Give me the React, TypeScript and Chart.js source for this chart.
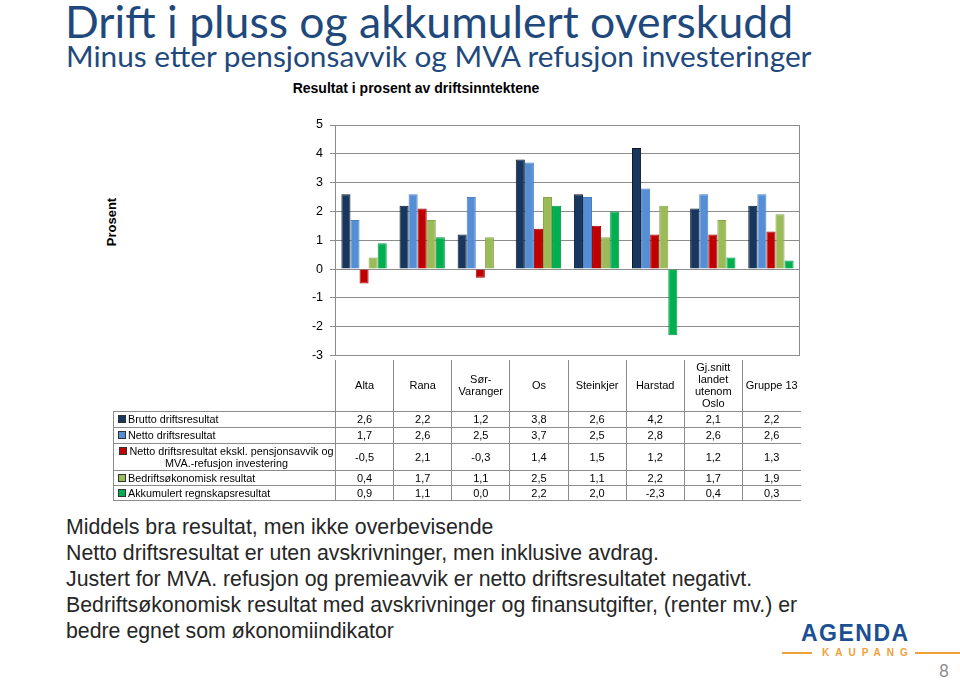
import React, { useEffect, useRef } from "react";
import { Chart, registerables } from "chart.js";
Chart.register(...registerables);

const categoryHeaderLines: string[][] = [
  ["Alta"],
  ["Rana"],
  ["Sør-", "Varanger"],
  ["Os"],
  ["Steinkjer"],
  ["Harstad"],
  ["Gj.snitt", "landet", "utenom", "Oslo"],
  ["Gruppe 13"],
];
const categories = categoryHeaderLines.map((l) => l.join(" "));

const seriesNames = [
  "Brutto driftsresultat",
  "Netto driftsresultat",
  "Netto driftsresultat ekskl. pensjonsavvik og MVA.-refusjon investering",
  "Bedriftsøkonomisk resultat",
  "Akkumulert regnskapsresultat",
];
const brutto = [2.6, 2.2, 1.2, 3.8, 2.6, 4.2, 2.1, 2.2];
const netto = [1.7, 2.6, 2.5, 3.7, 2.5, 2.8, 2.6, 2.6];
const nettoEkskl = [-0.5, 2.1, -0.3, 1.4, 1.5, 1.2, 1.2, 1.3];
const bedrift = [0.4, 1.7, 1.1, 2.5, 1.1, 2.2, 1.7, 1.9];
const akkumulert = [0.9, 1.1, 0.0, 2.2, 2.0, -2.3, 0.4, 0.3];
const seriesValues = [brutto, netto, nettoEkskl, bedrift, akkumulert];

const seriesColors = ["#17375E", "#558ED5", "#C00000", "#9BBB59", "#00B050"];
const seriesBorders = ["#0a1628", "#4a80c4", "#a50000", "#86a24a", "#009a46"];

const yMin = -3;
const yMax = 5;

const fmt = (v: number) => v.toFixed(1).replace(".", ",");

const GRID = "#8c8c8c";

export default function App() {
  const canvasRef = useRef<HTMLCanvasElement | null>(null);

  useEffect(() => {
    if (!canvasRef.current) return;
    const rightBorder = {
      id: "rightBorder",
      afterDraw(chart: any) {
        const { ctx, chartArea: a } = chart;
        ctx.save();
        ctx.strokeStyle = GRID;
        ctx.lineWidth = 1;
        ctx.beginPath();
        ctx.moveTo(Math.round(a.right) - 0.5, a.top);
        ctx.lineTo(Math.round(a.right) - 0.5, a.bottom);
        ctx.stroke();
        ctx.restore();
      },
    };
    const chart = new Chart(canvasRef.current, {
      type: "bar",
      data: {
        labels: categories,
        datasets: seriesNames.map((name, i) => ({
          label: name,
          data: seriesValues[i],
          backgroundColor: seriesColors[i],
          borderColor: seriesBorders[i],
          borderWidth: 1,
          categoryPercentage: 0.78,
          barPercentage: 1,
        })),
      },
      options: {
        responsive: false,
        animation: false,
        events: [],
        layout: { padding: { top: 15, right: 10, bottom: 10, left: 0 } },
        plugins: {
          legend: { display: false },
          title: { display: false },
          tooltip: { enabled: false },
        },
        scales: {
          x: { display: false },
          y: {
            min: yMin,
            max: yMax,
            afterFit: (s: any) => {
              s.width = 45;
            },
            ticks: {
              stepSize: 1,
              color: "#000",
              padding: 7,
              font: { family: "Liberation Sans", size: 12.5 },
              callback: (v: any) => String(v),
            },
            grid: { color: GRID, tickLength: 5, lineWidth: 1 },
            border: { display: true, color: GRID },
          },
        },
      },
      plugins: [rightBorder],
    });
    return () => chart.destroy();
  }, []);

  const cellBorder = `1px solid ${GRID}`;
  const rowHeights = [16, 16, 27, 15, 15];

  return (
    <div
      style={{
        position: "absolute",
        left: 0,
        top: 0,
        width: 960,
        height: 681,
        background: "#fff",
        overflow: "hidden",
        fontFamily: "Liberation Sans, Arial, sans-serif",
      }}
    >
      <div
        style={{
          position: "absolute",
          left: 65,
          top: -1,
          fontFamily: "Lato",
          fontSize: 44.5,
          lineHeight: "44px",
          color: "#1F497D",
          whiteSpace: "nowrap",
        }}
      >
        Drift i pluss og akkumulert overskudd
      </div>
      <div
        style={{
          position: "absolute",
          left: 66,
          top: 41,
          fontFamily: "Lato",
          fontSize: 29.8,
          lineHeight: "30px",
          color: "#1F497D",
          whiteSpace: "nowrap",
        }}
      >
        Minus etter pensjonsavvik og MVA refusjon investeringer
      </div>
      <div
        style={{
          position: "absolute",
          left: 266,
          width: 300,
          top: 81,
          fontSize: 14,
          lineHeight: "14px",
          fontWeight: "bold",
          textAlign: "center",
          whiteSpace: "nowrap",
          color: "#000",
        }}
      >
        Resultat i prosent av driftsinntektene
      </div>
      <div
        style={{
          position: "absolute",
          left: 112 - 40,
          top: 222 - 8,
          width: 80,
          height: 16,
          lineHeight: "16px",
          fontSize: 13,
          fontWeight: "bold",
          textAlign: "center",
          transform: "rotate(-90deg)",
          color: "#000",
        }}
      >
        Prosent
      </div>
      <canvas
        ref={canvasRef}
        width={520}
        height={260}
        style={{ position: "absolute", left: 290, top: 110, width: 520, height: 260 }}
      />
      <table
        style={{
          position: "absolute",
          left: 113,
          top: 360,
          width: 687,
          borderCollapse: "collapse",
          tableLayout: "fixed",
          fontSize: 11,
          lineHeight: "12px",
          color: "#000",
        }}
      >
        <colgroup>
          <col style={{ width: 222 }} />
          {categories.map((c) => (
            <col key={c} style={{ width: 465 / 8 }} />
          ))}
        </colgroup>
        <tbody>
          <tr style={{ height: 51 }}>
            <td style={{ padding: 0 }} />
            {categoryHeaderLines.map((lines, i) => (
              <td
                key={i}
                style={{
                  padding: 0,
                  textAlign: "center",
                  verticalAlign: "middle",
                  borderLeft: cellBorder,
                  borderBottom: cellBorder,
                }}
              >
                {lines.map((l, j) => (
                  <div key={j}>{l}</div>
                ))}
              </td>
            ))}
          </tr>
          {seriesNames.map((name, si) => (
            <tr key={si} style={{ height: rowHeights[si] }}>
              <td
                style={{
                  padding: "0 0 0 4px",
                  border: cellBorder,
                  textAlign: si === 2 ? "center" : "left",
                  verticalAlign: "middle",
                  whiteSpace: "nowrap",
                  fontSize: 10.8,
                }}
              >
                <span
                  style={{
                    display: "inline-block",
                    width: 6,
                    height: 6,
                    background: seriesColors[si],
                    border: "1px solid #333",
                    marginRight: 2,
                    verticalAlign: "0px",
                  }}
                />
                {si === 2 ? (
                  <>
                    Netto driftsresultat ekskl. pensjonsavvik og
                    <br />
                    MVA.-refusjon investering
                  </>
                ) : (
                  name
                )}
              </td>
              {seriesValues[si].map((v, ci) => (
                <td
                  key={ci}
                  style={{
                    padding: 0,
                    textAlign: "center",
                    verticalAlign: "middle",
                    borderTop: cellBorder,
                    borderBottom: cellBorder,
                    borderLeft: cellBorder,
                  }}
                >
                  {fmt(v)}
                </td>
              ))}
            </tr>
          ))}
        </tbody>
      </table>
      <div
        style={{
          position: "absolute",
          left: 66,
          top: 513.6,
          fontSize: 21.3,
          lineHeight: "26px",
          color: "#262626",
          whiteSpace: "nowrap",
        }}
      >
        <div>Middels bra resultat, men ikke overbevisende</div>
        <div>Netto driftsresultat er uten avskrivninger, men inklusive avdrag.</div>
        <div>Justert for MVA. refusjon og premieavvik er netto driftsresultatet negativt.</div>
        <div>Bedriftsøkonomisk resultat med avskrivninger og finansutgifter, (renter mv.) er</div>
        <div>bedre egnet som økonomiindikator</div>
      </div>
      <div
        style={{
          position: "absolute",
          left: 801,
          top: 621,
          fontSize: 23,
          lineHeight: "24px",
          fontWeight: "bold",
          letterSpacing: 1.5,
          color: "#1B4F93",
          whiteSpace: "nowrap",
        }}
      >
        AGENDA
      </div>
      <div style={{ position: "absolute", left: 782, top: 652, width: 30, height: 2, background: "#EFA136" }} />
      <div style={{ position: "absolute", left: 915, top: 652, width: 45, height: 2, background: "#EFA136" }} />
      <div
        style={{
          position: "absolute",
          left: 822,
          top: 647,
          fontSize: 10,
          lineHeight: "12px",
          fontWeight: "bold",
          letterSpacing: 6,
          color: "#EFA136",
          whiteSpace: "nowrap",
        }}
      >
        KAUPANG
      </div>
      <div
        style={{
          position: "absolute",
          left: 939,
          top: 662,
          fontFamily: "Lato",
          fontSize: 17,
          lineHeight: "17px",
          color: "#8c8c8c",
        }}
      >
        8
      </div>
    </div>
  );
}
